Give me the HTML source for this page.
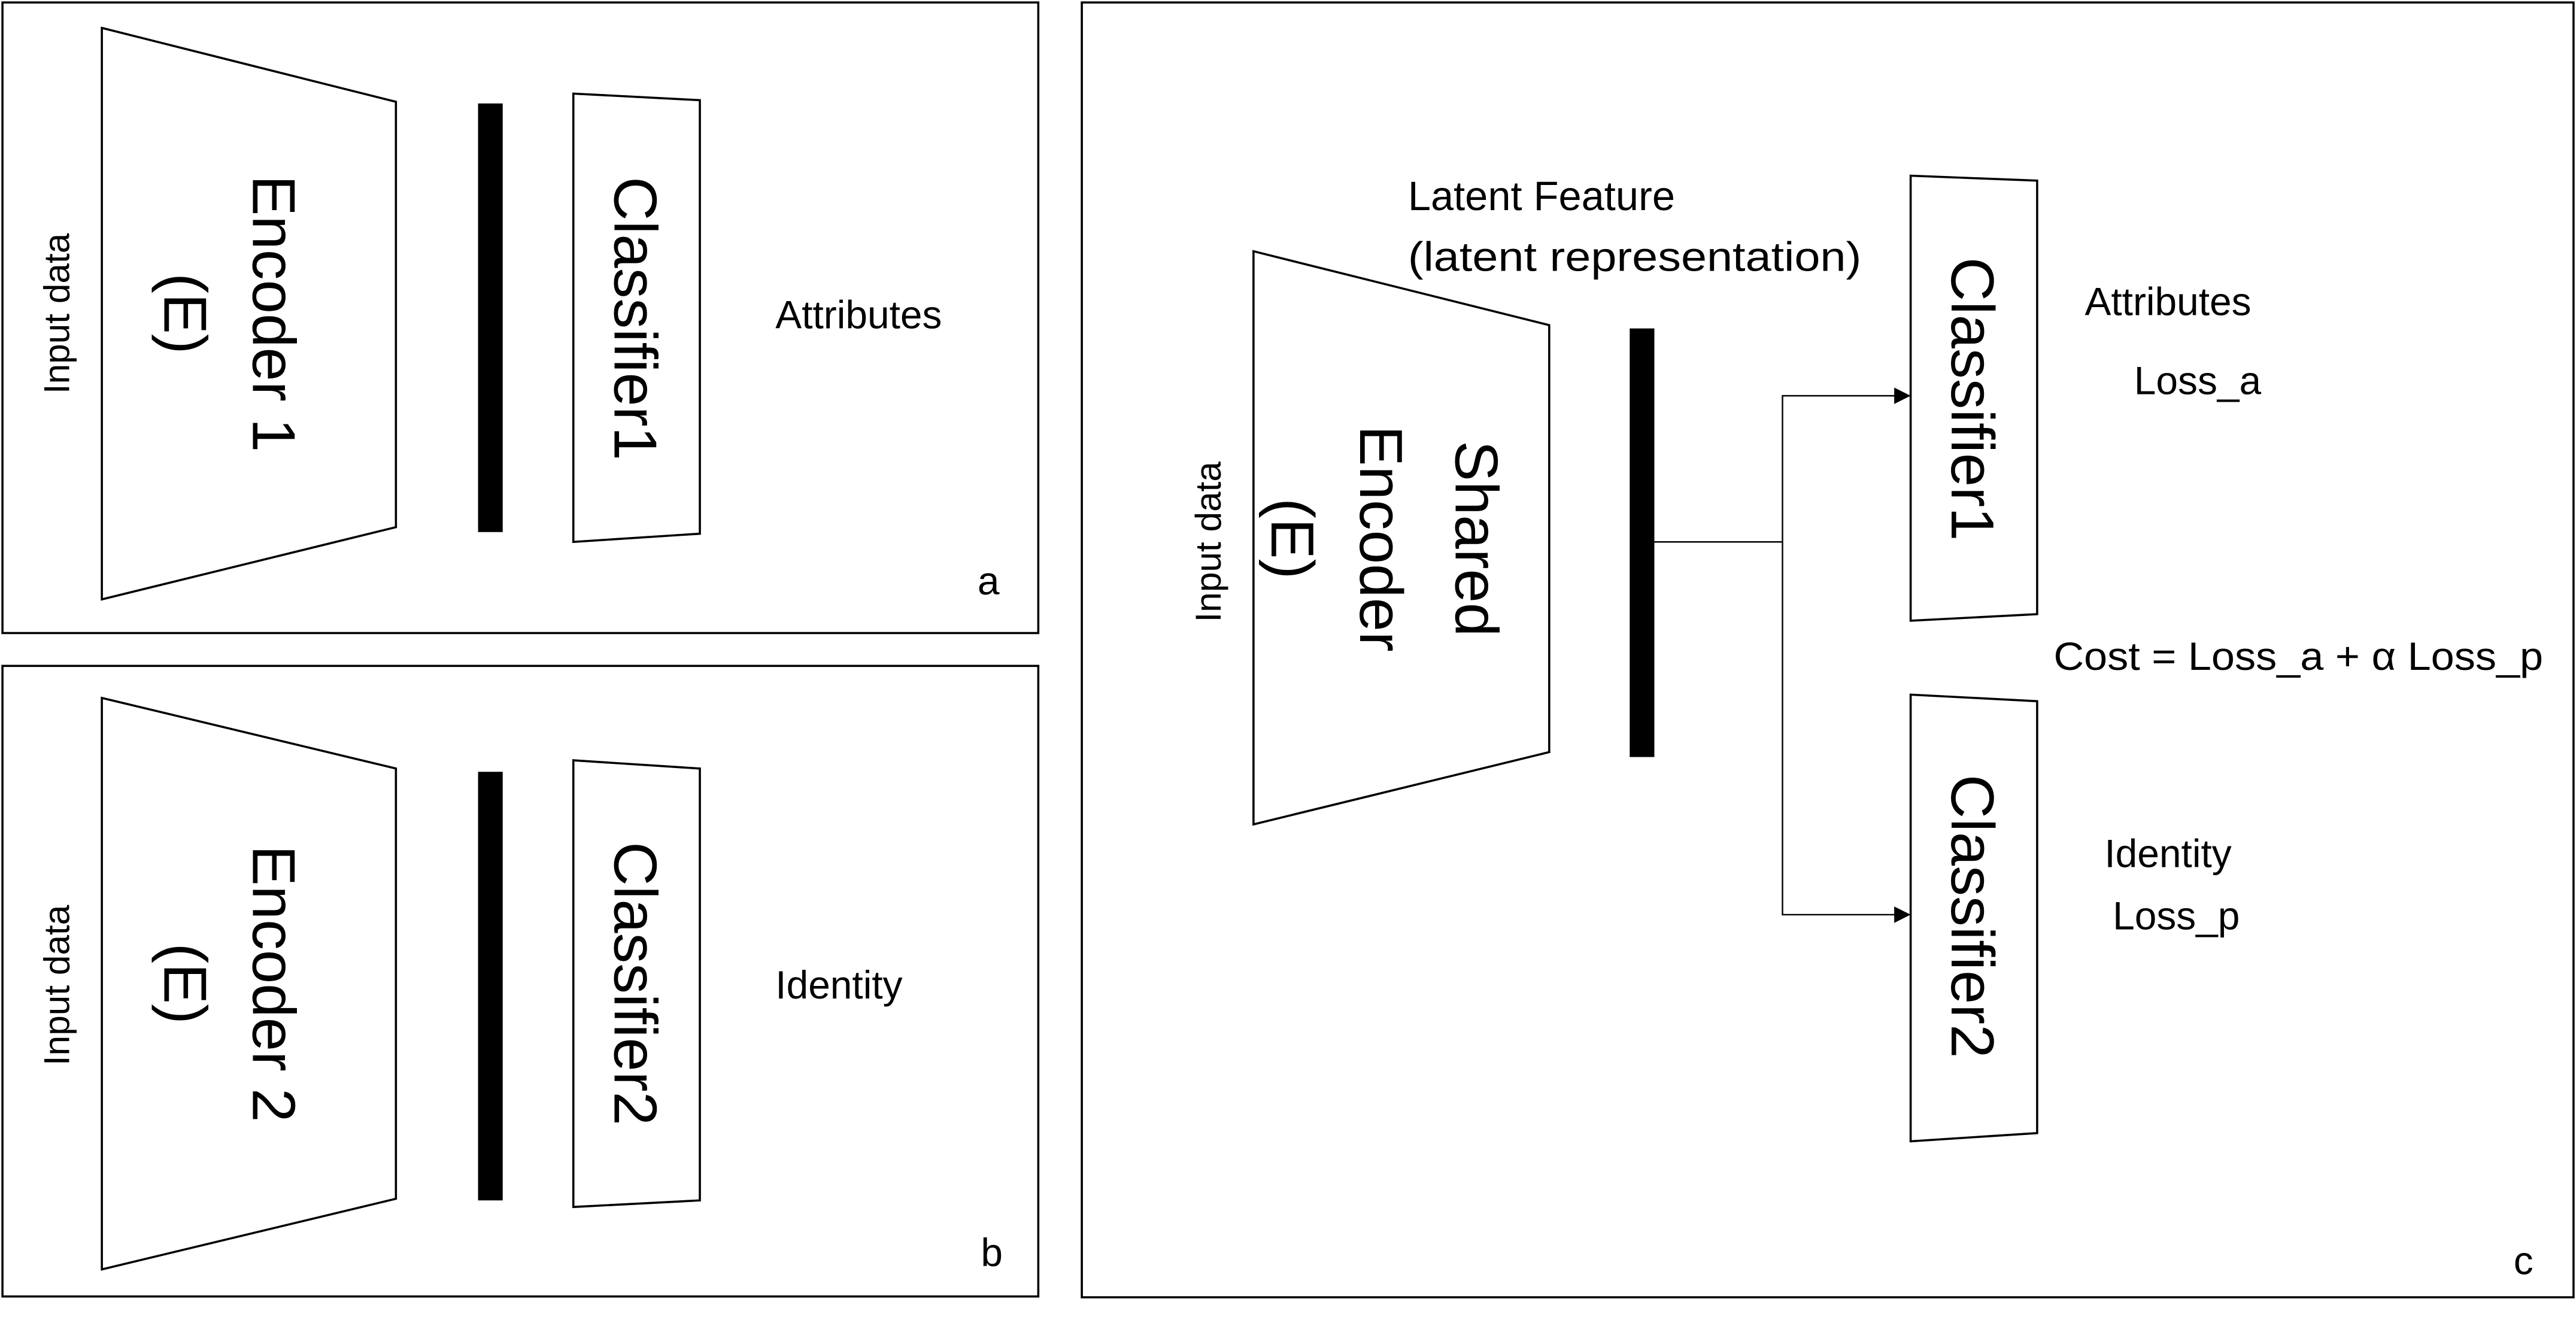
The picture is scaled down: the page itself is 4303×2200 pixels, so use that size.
<!DOCTYPE html>
<html><head><meta charset="utf-8"><style>
html,body{margin:0;padding:0;background:#fff;}
svg{display:block;}
text{font-family:"Liberation Sans",sans-serif;fill:#000;}
</style></head><body>
<svg width="4303" height="2200" viewBox="0 0 1568 802" preserveAspectRatio="none" xmlns="http://www.w3.org/2000/svg">
<g fill="none" stroke="#000" stroke-width="1.3">
<rect x="1.5" y="1.5" width="630.5" height="384"/>
<rect x="1.5" y="405.5" width="630.5" height="384"/>
<rect x="658.5" y="1.5" width="908" height="788.5"/>
<polygon points="62,17 241,62 241,321 62,365"/>
<polygon points="349,57 426,61 426,325 349,330"/>
<polygon points="62,425 241,468 241,730 62,773"/>
<polygon points="349,463 426,468 426,731 349,735"/>
<polygon points="763,153 943,198 943,458 763,502"/>
<polygon points="1163,107 1240,110 1240,374 1163,378"/>
<polygon points="1163,423 1240,427 1240,690 1163,695"/>
<polyline points="1007,330 1085,330" stroke-width="0.9"/>
<polyline points="1155,241 1085,241 1085,557 1155,557" stroke-width="0.9"/>
</g>
<rect x="291" y="63" width="15" height="261" fill="#000"/>
<rect x="291" y="470" width="15" height="261" fill="#000"/>
<rect x="992" y="200" width="15" height="261" fill="#000"/>
<polygon points="1163,241 1153,236 1153,246" fill="#000"/>
<polygon points="1163,557 1153,552 1153,562" fill="#000"/>

<g font-size="37" text-anchor="middle">
<text transform="translate(154,191) rotate(90)">Encoder 1</text>
<text transform="translate(100,191) rotate(90)">(E)</text>
<text transform="translate(374,194) rotate(90)">Classifier1</text>
<text transform="translate(154,599) rotate(90)">Encoder 2</text>
<text transform="translate(100,599) rotate(90)">(E)</text>
<text transform="translate(374,599) rotate(90)">Classifier2</text>
<text transform="translate(886,328) rotate(90)">Shared</text>
<text transform="translate(828,328) rotate(90)">Encoder</text>
<text transform="translate(774,328) rotate(90)">(E)</text>
<text transform="translate(1188,243) rotate(90)">Classifier1</text>
<text transform="translate(1188,558) rotate(90)">Classifier2</text>
</g>
<g font-size="22" text-anchor="middle">
<text transform="translate(42,191) rotate(-90)">Input data</text>
<text transform="translate(42,600) rotate(-90)">Input data</text>
<text transform="translate(743,330) rotate(-90)">Input data</text>
</g>
<g font-size="24">
<text x="472" y="200">Attributes</text>
<text x="472" y="608">Identity</text>
<text x="595" y="362">a</text>
<text x="597" y="771">b</text>
<text x="857" y="128" font-size="25">Latent Feature</text>
<text x="857" y="165" font-size="25" textLength="276" lengthAdjust="spacingAndGlyphs">(latent representation)</text>
<text x="1269" y="192">Attributes</text>
<text x="1299" y="240">Loss_a</text>
<text x="1250" y="408" textLength="298" lengthAdjust="spacingAndGlyphs">Cost = Loss_a + α Loss_p</text>
<text x="1281" y="528">Identity</text>
<text x="1286" y="566">Loss_p</text>
<text x="1530" y="776">c</text>
</g>
</svg>
</body></html>
